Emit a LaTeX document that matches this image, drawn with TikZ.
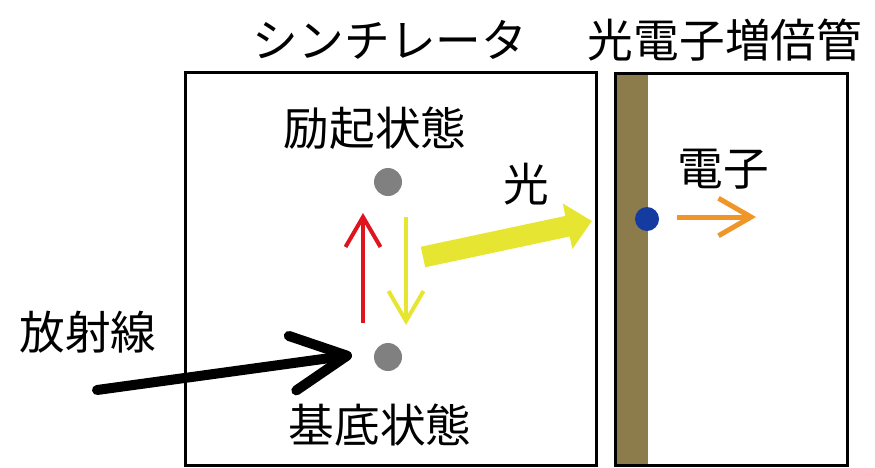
\documentclass[tikz,border=0pt]{standalone}
\usepackage{fontspec}
\newfontfamily\jpfont{Noto Sans CJK JP}
\usetikzlibrary{arrows.meta}

\definecolor{dotgray}{RGB}{128,128,128}
\definecolor{excred}{RGB}{224,20,30}
\definecolor{lightyellow}{RGB}{230,230,50}
\definecolor{photoorange}{RGB}{240,150,40}
\definecolor{cathode}{RGB}{140,124,76}
\definecolor{elecblue}{RGB}{20,60,160}

\begin{document}
\begin{tikzpicture}[x=0.02cm,y=-0.02cm,
   label/.style={font=\jpfont\fontsize{26}{26}\selectfont,inner sep=0pt},
   level/.style={shape=circle,fill=dotgray,minimum size=0.56cm,inner sep=0pt},
   box/.style={draw=black,line width=0.06cm},
   thinarrow/.style={line width=0.08cm,-{Straight Barb[length=0.6cm,width=0.7cm]}}]

   \useasboundingbox (0,0) rectangle (875,467);

   % boxes
   \fill[cathode] (617,73) rectangle (648,465);
   \draw[box] (185,72) rectangle (596,465);
   \draw[box] (615,73) rectangle (847,465);

   \node[label] (scinttext) at (390,40) {シンチレータ};
   \node[label] (pmttext) at (725,40) {光電子増倍管};

   \node[level] (excited) at (388,182) {};
   \node[level] (ground) at (388,357) {};
   \node[label] (excitedtext) at (375,128) {励起状態};
   \node[label] (groundtext) at (380,425) {基底状態};
   \node[label] (radtext) at (88,332) {放射線};
   \node[label] (lighttext) at (526,184) {光};
   \node[label] (electrontext) at (723,169) {電子};
   \node[shape=circle,fill=elecblue,minimum size=0.48cm,inner sep=0pt] (electron) at (647,219) {};

   \coordinate (redfoot) at (363,323);
   \coordinate (redtip) at (363,213);
   \coordinate (yelltop) at (406,217);
   \coordinate (yelltip) at (406,325);
   \coordinate (lightfoot) at (423,257);
   \coordinate (lighttip) at (592,221);
   \coordinate (radfoot) at (97,390);
   \coordinate (radtip) at (352,355);
   \coordinate (elecfoot) at (677,217);
   \coordinate (electip) at (756,217);

   \draw[thinarrow,excred] (redfoot) -- (redtip);
   \draw[thinarrow,lightyellow] (yelltop) -- (yelltip);
   \draw[lightyellow,line width=0.42cm,-{Triangle[length=0.5cm,width=0.9cm]}] (lightfoot) -- (lighttip);
   \draw[black,line width=0.2cm,line cap=round,-{Straight Barb[length=1.1cm,width=1.1cm,round]}] (radfoot) -- (radtip);
   \draw[photoorange,line width=0.1cm,-{Straight Barb[length=0.65cm,width=0.75cm]}] (elecfoot) -- (electip);

\end{tikzpicture}
\end{document}
